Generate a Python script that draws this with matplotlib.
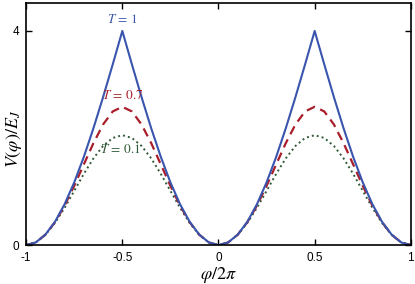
import matplotlib
matplotlib.use("Agg")
import matplotlib.pyplot as plt

plt.rcParams["font.family"] = ["Liberation Sans", "DejaVu Sans"]
plt.rcParams["mathtext.fontset"] = "stix"

# phase phi/2pi, read in steps of 0.05
x = [round(-1 + 0.05 * i, 2) for i in range(41)]

# one rising half period (0 .. 0.5), mirrored to the full range below
t1_half = [0, 0.049, 0.196, 0.436, 0.764, 1.172, 1.649, 2.184, 2.764, 3.374, 4.0]
t07_half = [0, 0.049, 0.194, 0.428, 0.739, 1.107, 1.508, 1.906, 2.253, 2.496, 2.584]
t01_half = [0, 0.049, 0.191, 0.414, 0.697, 1.013, 1.331, 1.621, 1.852, 2.001, 2.053]


def full(half):
    # -1..-0.5 rises, -0.5..0 falls, 0..0.5 rises, 0.5..1 falls
    up = half
    down = half[::-1]
    return up[:-1] + down[:-1] + up[:-1] + down


V_t1 = full(t1_half)
V_t07 = full(t07_half)
V_t01 = full(t01_half)

fig = plt.figure(figsize=(4.15, 2.84), dpi=100)
ax = fig.add_axes([0.063, 0.137, 0.927, 0.852])

ax.plot(x, V_t01, color="#2f5a37", lw=1.4, ls=(0, (1, 1.6)))
ax.plot(x, V_t07, color="#a81e2a", lw=1.6, ls=(0, (4, 2.6)))
ax.plot(x, V_t1, color="#3a55ad", lw=1.5)

ax.text(-0.5, 4.1, r"$T\,=\,1$", color="#3a55ad", ha="center", va="bottom", fontsize=9.5)
ax.text(-0.5, 2.68, r"$T\,=\,0.7$", color="#a81e2a", ha="center", va="bottom", fontsize=9.5)
ax.text(-0.51, 1.67, r"$T\,=\,0.1$", color="#2f5a37", ha="center", va="bottom", fontsize=9.5)

ax.set_xlim(-1, 1)
ax.set_ylim(0, 4.52)
ax.set_xticks([-1, -0.5, 0, 0.5, 1])
ax.set_xticklabels(["-1", "-0.5", "0", "0.5", "1"])
ax.set_yticks([0, 4])
ax.set_yticklabels(["0", "4"])
ax.tick_params(direction="in", top=True, right=True, length=4, width=1, labelsize=8.5)
ax.tick_params(axis="x", pad=5)
ax.tick_params(axis="y", pad=5)
for s in ax.spines.values():
    s.set_linewidth(1.2)

ax.set_xlabel(r"$\varphi/2\pi$", fontsize=13, va="center")
ax.set_ylabel(r"$V(\varphi)/E_J$", fontsize=13, va="center")
ax.xaxis.set_label_coords(0.5, -0.122)
ax.yaxis.set_label_coords(-0.031, 0.44)

fig.savefig("out.png", dpi=100)
